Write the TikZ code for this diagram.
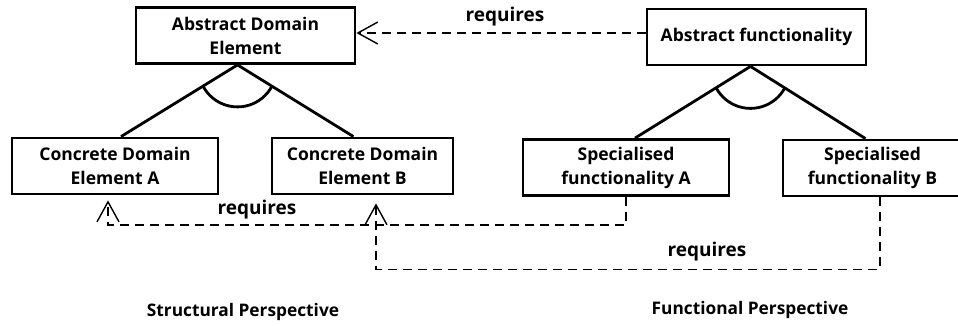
\documentclass[tikz,border=0pt]{standalone}
\usepackage{fontspec}
\setmainfont{Open Sans}
\usetikzlibrary{arrows.meta}

\tikzstyle{feature}=[draw, rectangle, line width=2.8pt, minimum height=56pt, inner sep=2pt, align=center, font=\fontsize{17.5}{24}\selectfont\bfseries]
\tikzstyle{decomp} = [draw, line width=2.8pt, -]
\tikzstyle{requires} = [draw, line width=1.4pt, dash pattern=on 9pt off 6pt, -{Straight Barb[length=20pt, width=22pt, line width=1.4pt]}]
\tikzstyle{reqtext} = [inner sep=0pt, font=\fontsize{19}{22}\selectfont\bfseries]
\tikzstyle{persp} = [inner sep=0pt, font=\fontsize{17.3}{21}\selectfont\bfseries]

\begin{document}
\begin{tikzpicture}[x=1pt, y=-1pt]
		\useasboundingbox (0,0) rectangle (958,326);
		\foreach \pos/\name/\w/\txt in {{(245.5,35.5)/absdom/219/{Abstract Domain\\Element}}, {(756.5,37)/absfun/219/{Abstract functionality}}, {(115,166)/conA/206/{Concrete Domain\\Element A}}, {(362.5,166)/conB/181/{Concrete Domain\\Element B}}, {(626,167.5)/specA/206/{Specialised\\functionality A}}, {(872.5,168)/specB/179/{Specialised\\functionality B}}}
			\node[feature, minimum width=\w pt] (\name) at \pos {\txt};
		% and-decomposition
		\coordinate (sapex) at ([xshift=-8pt]absdom.south);
		\coordinate (sA) at ([xshift=6pt]conA.north);
		\coordinate (sB) at ([xshift=-9pt]conB.north);
		\coordinate (fapex) at ([xshift=-6pt]absfun.south);
		\coordinate (fA) at ([xshift=9pt]specA.north);
		\coordinate (fB) at ([xshift=-7pt]specB.north);
		\foreach \source/ \dest in {sapex/sA, sapex/sB, fapex/fA, fapex/fB}
			\path[decomp] (\source) -- (\dest);
		\foreach \apex/\left/\right in {sapex/sA/sB, fapex/fA/fB}
		{
			\begin{scope}
				\clip (\apex) -- (\left) -- (\right) -- cycle;
				\draw[line width=2.8pt] ([yshift=-3pt]\apex) circle (39pt);
			\end{scope}
		}
		% requires links
		\path[requires] ([yshift=4pt]absfun.west) -- ([yshift=4pt]absfun.west -| absdom.east);
		\path[requires, shorten >=5pt] (specA.south) -- ++(0,28) -| ([xshift=-7pt]conA.south);
		\path[requires, shorten >=8pt] ([xshift=7.5pt]specB.south) -- ++(0,72) -| ([xshift=13.5pt]conB.south);
		\node[reqtext] (req1) at (505,17) {requires};
		\node[reqtext] (req2) at (257,210) {requires};
		\node[reqtext] (req3) at (707,252) {requires};
		\node[persp] (structural) at (243,312) {Structural Perspective};
		\node[persp] (functional) at (750,310) {Functional Perspective};
	\end{tikzpicture}
\end{document}
